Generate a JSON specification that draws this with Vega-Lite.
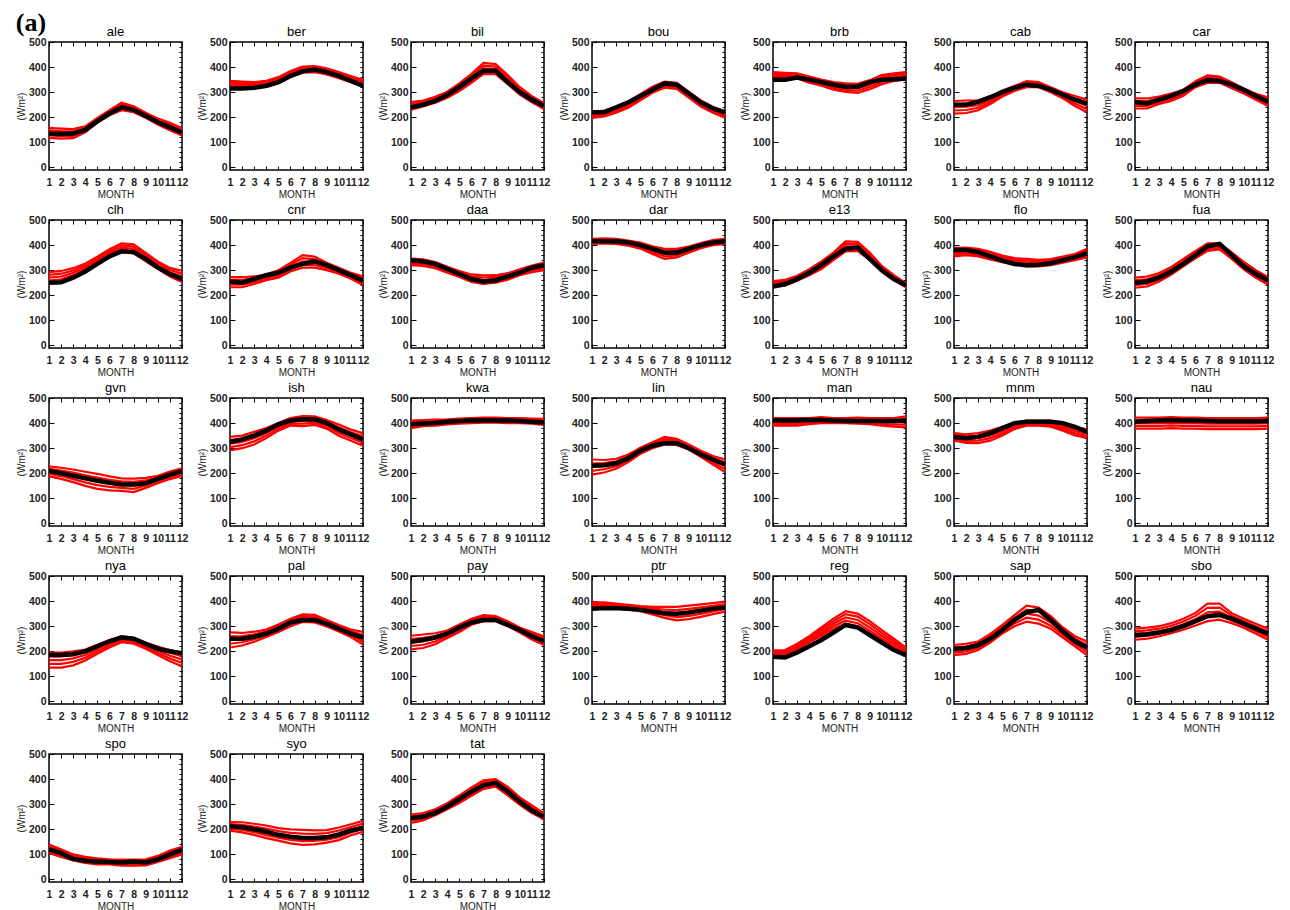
{
"$schema": "https://vega.github.io/schema/vega-lite/v6.json",
"background": "white",
"padding": {"left": 15, "top": 10, "right": 5, "bottom": 2},
"title": {"text": "(a)", "anchor": "start", "frame": "bounds", "font": "Liberation Serif", "fontSize": 26, "fontWeight": "bold", "color": "black", "offset": -11},
"data": {"values": [
{"p":"ale","x":1,"o":135,"a":118,"b":128,"c":138,"d":148,"e":158},
{"p":"ale","x":2,"o":133,"a":115,"b":125,"c":135,"d":145,"e":155},
{"p":"ale","x":3,"o":135,"a":117,"b":126,"c":135,"d":144,"e":153},
{"p":"ale","x":4,"o":150,"a":140,"b":146,"c":152,"d":158,"e":164},
{"p":"ale","x":5,"o":185,"a":178,"b":183,"c":188,"d":193,"e":198},
{"p":"ale","x":6,"o":215,"a":208,"b":213,"c":218,"d":223,"e":228},
{"p":"ale","x":7,"o":240,"a":228,"b":235,"c":243,"d":251,"e":258},
{"p":"ale","x":8,"o":230,"a":220,"b":226,"c":232,"d":238,"e":244},
{"p":"ale","x":9,"o":205,"a":198,"b":203,"c":208,"d":213,"e":218},
{"p":"ale","x":10,"o":180,"a":171,"b":177,"c":183,"d":189,"e":195},
{"p":"ale","x":11,"o":160,"a":148,"b":155,"c":163,"d":171,"e":178},
{"p":"ale","x":12,"o":140,"a":127,"b":134,"c":142,"d":150,"e":157},
{"p":"ber","x":1,"o":315,"a":315,"b":322,"c":330,"d":338,"e":345},
{"p":"ber","x":2,"o":315,"a":318,"b":324,"c":330,"d":336,"e":342},
{"p":"ber","x":3,"o":318,"a":316,"b":322,"c":328,"d":334,"e":340},
{"p":"ber","x":4,"o":325,"a":321,"b":327,"c":333,"d":339,"e":345},
{"p":"ber","x":5,"o":340,"a":336,"b":342,"c":348,"d":354,"e":360},
{"p":"ber","x":6,"o":365,"a":360,"b":366,"c":372,"d":378,"e":384},
{"p":"ber","x":7,"o":383,"a":378,"b":384,"c":390,"d":396,"e":402},
{"p":"ber","x":8,"o":390,"a":380,"b":386,"c":392,"d":398,"e":404},
{"p":"ber","x":9,"o":380,"a":371,"b":377,"c":383,"d":389,"e":395},
{"p":"ber","x":10,"o":365,"a":356,"b":362,"c":368,"d":374,"e":380},
{"p":"ber","x":11,"o":345,"a":340,"b":346,"c":352,"d":358,"e":364},
{"p":"ber","x":12,"o":325,"a":325,"b":331,"c":337,"d":343,"e":349},
{"p":"bil","x":1,"o":240,"a":230,"b":237,"c":245,"d":253,"e":260},
{"p":"bil","x":2,"o":250,"a":243,"b":249,"c":255,"d":261,"e":267},
{"p":"bil","x":3,"o":265,"a":258,"b":264,"c":270,"d":276,"e":282},
{"p":"bil","x":4,"o":290,"a":278,"b":284,"c":290,"d":296,"e":302},
{"p":"bil","x":5,"o":320,"a":305,"b":312,"c":320,"d":328,"e":335},
{"p":"bil","x":6,"o":355,"a":337,"b":346,"c":355,"d":364,"e":373},
{"p":"bil","x":7,"o":385,"a":373,"b":384,"c":395,"d":406,"e":417},
{"p":"bil","x":8,"o":385,"a":372,"b":382,"c":392,"d":402,"e":412},
{"p":"bil","x":9,"o":340,"a":332,"b":341,"c":350,"d":359,"e":368},
{"p":"bil","x":10,"o":300,"a":290,"b":297,"c":305,"d":313,"e":320},
{"p":"bil","x":11,"o":270,"a":260,"b":266,"c":272,"d":278,"e":284},
{"p":"bil","x":12,"o":245,"a":233,"b":239,"c":245,"d":251,"e":257},
{"p":"bou","x":1,"o":220,"a":198,"b":204,"c":210,"d":216,"e":222},
{"p":"bou","x":2,"o":220,"a":203,"b":209,"c":215,"d":221,"e":227},
{"p":"bou","x":3,"o":240,"a":218,"b":224,"c":230,"d":236,"e":242},
{"p":"bou","x":4,"o":260,"a":238,"b":244,"c":250,"d":256,"e":262},
{"p":"bou","x":5,"o":285,"a":268,"b":274,"c":280,"d":286,"e":292},
{"p":"bou","x":6,"o":310,"a":298,"b":304,"c":310,"d":316,"e":322},
{"p":"bou","x":7,"o":335,"a":318,"b":324,"c":330,"d":336,"e":342},
{"p":"bou","x":8,"o":330,"a":313,"b":319,"c":325,"d":331,"e":337},
{"p":"bou","x":9,"o":295,"a":278,"b":284,"c":290,"d":296,"e":302},
{"p":"bou","x":10,"o":260,"a":243,"b":249,"c":255,"d":261,"e":267},
{"p":"bou","x":11,"o":235,"a":218,"b":224,"c":230,"d":236,"e":242},
{"p":"bou","x":12,"o":220,"a":198,"b":204,"c":210,"d":216,"e":222},
{"p":"brb","x":1,"o":350,"a":350,"b":357,"c":365,"d":373,"e":380},
{"p":"brb","x":2,"o":350,"a":353,"b":359,"c":365,"d":371,"e":377},
{"p":"brb","x":3,"o":358,"a":355,"b":360,"c":365,"d":370,"e":375},
{"p":"brb","x":4,"o":350,"a":338,"b":344,"c":350,"d":356,"e":362},
{"p":"brb","x":5,"o":340,"a":326,"b":332,"c":338,"d":344,"e":350},
{"p":"brb","x":6,"o":330,"a":310,"b":317,"c":325,"d":333,"e":340},
{"p":"brb","x":7,"o":322,"a":301,"b":309,"c":318,"d":327,"e":335},
{"p":"brb","x":8,"o":322,"a":297,"b":306,"c":315,"d":324,"e":333},
{"p":"brb","x":9,"o":340,"a":312,"b":321,"c":330,"d":339,"e":348},
{"p":"brb","x":10,"o":350,"a":332,"b":341,"c":350,"d":359,"e":368},
{"p":"brb","x":11,"o":352,"a":345,"b":352,"c":360,"d":368,"e":375},
{"p":"brb","x":12,"o":355,"a":350,"b":357,"c":365,"d":373,"e":380},
{"p":"cab","x":1,"o":250,"a":215,"b":227,"c":240,"d":253,"e":265},
{"p":"cab","x":2,"o":250,"a":217,"b":229,"c":242,"d":255,"e":267},
{"p":"cab","x":3,"o":262,"a":228,"b":238,"c":248,"d":258,"e":268},
{"p":"cab","x":4,"o":280,"a":253,"b":260,"c":268,"d":276,"e":283},
{"p":"cab","x":5,"o":300,"a":283,"b":289,"c":295,"d":301,"e":307},
{"p":"cab","x":6,"o":318,"a":305,"b":310,"c":315,"d":320,"e":325},
{"p":"cab","x":7,"o":330,"a":320,"b":326,"c":332,"d":338,"e":344},
{"p":"cab","x":8,"o":325,"a":320,"b":325,"c":330,"d":335,"e":340},
{"p":"cab","x":9,"o":310,"a":300,"b":305,"c":310,"d":315,"e":320},
{"p":"cab","x":10,"o":290,"a":276,"b":282,"c":288,"d":294,"e":300},
{"p":"cab","x":11,"o":270,"a":245,"b":255,"c":265,"d":275,"e":285},
{"p":"cab","x":12,"o":255,"a":220,"b":232,"c":245,"d":258,"e":270},
{"p":"car","x":1,"o":260,"a":235,"b":245,"c":255,"d":265,"e":275},
{"p":"car","x":2,"o":255,"a":235,"b":245,"c":255,"d":265,"e":275},
{"p":"car","x":3,"o":270,"a":253,"b":260,"c":268,"d":276,"e":283},
{"p":"car","x":4,"o":285,"a":265,"b":272,"c":280,"d":288,"e":295},
{"p":"car","x":5,"o":305,"a":286,"b":292,"c":298,"d":304,"e":310},
{"p":"car","x":6,"o":330,"a":320,"b":326,"c":332,"d":338,"e":344},
{"p":"car","x":7,"o":348,"a":337,"b":344,"c":352,"d":360,"e":367},
{"p":"car","x":8,"o":345,"a":338,"b":344,"c":350,"d":356,"e":362},
{"p":"car","x":9,"o":330,"a":316,"b":322,"c":328,"d":334,"e":340},
{"p":"car","x":10,"o":310,"a":295,"b":300,"c":305,"d":310,"e":315},
{"p":"car","x":11,"o":285,"a":270,"b":276,"c":282,"d":288,"e":294},
{"p":"car","x":12,"o":262,"a":245,"b":253,"c":262,"d":271,"e":279},
{"p":"clh","x":1,"o":250,"a":248,"b":259,"c":270,"d":281,"e":292},
{"p":"clh","x":2,"o":252,"a":253,"b":264,"c":275,"d":286,"e":297},
{"p":"clh","x":3,"o":270,"a":272,"b":281,"c":290,"d":299,"e":308},
{"p":"clh","x":4,"o":295,"a":297,"b":304,"c":312,"d":320,"e":327},
{"p":"clh","x":5,"o":325,"a":330,"b":336,"c":342,"d":348,"e":354},
{"p":"clh","x":6,"o":355,"a":360,"b":366,"c":372,"d":378,"e":384},
{"p":"clh","x":7,"o":375,"a":373,"b":381,"c":390,"d":399,"e":407},
{"p":"clh","x":8,"o":372,"a":367,"b":376,"c":385,"d":394,"e":403},
{"p":"clh","x":9,"o":345,"a":335,"b":343,"c":352,"d":361,"e":369},
{"p":"clh","x":10,"o":310,"a":305,"b":312,"c":320,"d":328,"e":335},
{"p":"clh","x":11,"o":285,"a":275,"b":283,"c":292,"d":301,"e":309},
{"p":"clh","x":12,"o":265,"a":253,"b":264,"c":275,"d":286,"e":297},
{"p":"cnr","x":1,"o":255,"a":232,"b":242,"c":252,"d":262,"e":272},
{"p":"cnr","x":2,"o":250,"a":232,"b":242,"c":252,"d":262,"e":272},
{"p":"cnr","x":3,"o":265,"a":245,"b":252,"c":260,"d":268,"e":275},
{"p":"cnr","x":4,"o":280,"a":260,"b":266,"c":272,"d":278,"e":284},
{"p":"cnr","x":5,"o":290,"a":270,"b":277,"c":285,"d":293,"e":300},
{"p":"cnr","x":6,"o":310,"a":295,"b":303,"c":312,"d":321,"e":329},
{"p":"cnr","x":7,"o":325,"a":310,"b":322,"c":335,"d":348,"e":360},
{"p":"cnr","x":8,"o":335,"a":310,"b":321,"c":332,"d":343,"e":354},
{"p":"cnr","x":9,"o":320,"a":300,"b":307,"c":315,"d":323,"e":330},
{"p":"cnr","x":10,"o":300,"a":286,"b":292,"c":298,"d":304,"e":310},
{"p":"cnr","x":11,"o":280,"a":266,"b":272,"c":278,"d":284,"e":290},
{"p":"cnr","x":12,"o":258,"a":241,"b":249,"c":258,"d":267,"e":275},
{"p":"daa","x":1,"o":340,"a":320,"b":326,"c":333,"d":340,"e":346},
{"p":"daa","x":2,"o":335,"a":317,"b":323,"c":330,"d":337,"e":343},
{"p":"daa","x":3,"o":325,"a":308,"b":314,"c":320,"d":326,"e":332},
{"p":"daa","x":4,"o":305,"a":290,"b":296,"c":302,"d":308,"e":314},
{"p":"daa","x":5,"o":285,"a":273,"b":279,"c":285,"d":291,"e":297},
{"p":"daa","x":6,"o":265,"a":253,"b":260,"c":268,"d":276,"e":283},
{"p":"daa","x":7,"o":255,"a":245,"b":253,"c":262,"d":271,"e":279},
{"p":"daa","x":8,"o":260,"a":250,"b":257,"c":265,"d":273,"e":280},
{"p":"daa","x":9,"o":275,"a":262,"b":268,"c":275,"d":282,"e":288},
{"p":"daa","x":10,"o":290,"a":280,"b":286,"c":292,"d":298,"e":304},
{"p":"daa","x":11,"o":310,"a":292,"b":298,"c":305,"d":312,"e":318},
{"p":"daa","x":12,"o":320,"a":300,"b":307,"c":315,"d":323,"e":330},
{"p":"dar","x":1,"o":415,"a":405,"b":410,"c":415,"d":420,"e":425},
{"p":"dar","x":2,"o":415,"a":407,"b":412,"c":417,"d":422,"e":427},
{"p":"dar","x":3,"o":415,"a":405,"b":410,"c":415,"d":420,"e":425},
{"p":"dar","x":4,"o":410,"a":398,"b":403,"c":408,"d":413,"e":418},
{"p":"dar","x":5,"o":400,"a":386,"b":392,"c":398,"d":404,"e":410},
{"p":"dar","x":6,"o":385,"a":365,"b":372,"c":380,"d":388,"e":395},
{"p":"dar","x":7,"o":370,"a":345,"b":355,"c":365,"d":375,"e":385},
{"p":"dar","x":8,"o":370,"a":351,"b":359,"c":368,"d":377,"e":385},
{"p":"dar","x":9,"o":385,"a":370,"b":376,"c":382,"d":388,"e":394},
{"p":"dar","x":10,"o":400,"a":388,"b":393,"c":398,"d":403,"e":408},
{"p":"dar","x":11,"o":410,"a":400,"b":405,"c":410,"d":415,"e":420},
{"p":"dar","x":12,"o":415,"a":405,"b":410,"c":415,"d":420,"e":425},
{"p":"e13","x":1,"o":235,"a":233,"b":239,"c":245,"d":251,"e":257},
{"p":"e13","x":2,"o":245,"a":238,"b":244,"c":250,"d":256,"e":262},
{"p":"e13","x":3,"o":265,"a":258,"b":263,"c":268,"d":273,"e":278},
{"p":"e13","x":4,"o":290,"a":280,"b":286,"c":292,"d":298,"e":304},
{"p":"e13","x":5,"o":320,"a":305,"b":312,"c":320,"d":328,"e":335},
{"p":"e13","x":6,"o":355,"a":340,"b":347,"c":355,"d":363,"e":370},
{"p":"e13","x":7,"o":385,"a":375,"b":385,"c":395,"d":405,"e":415},
{"p":"e13","x":8,"o":390,"a":377,"b":386,"c":395,"d":404,"e":413},
{"p":"e13","x":9,"o":345,"a":340,"b":347,"c":355,"d":363,"e":370},
{"p":"e13","x":10,"o":300,"a":293,"b":299,"c":305,"d":311,"e":317},
{"p":"e13","x":11,"o":265,"a":260,"b":265,"c":270,"d":275,"e":280},
{"p":"e13","x":12,"o":240,"a":232,"b":236,"c":240,"d":244,"e":248},
{"p":"flo","x":1,"o":380,"a":355,"b":363,"c":372,"d":381,"e":389},
{"p":"flo","x":2,"o":380,"a":360,"b":367,"c":375,"d":383,"e":390},
{"p":"flo","x":3,"o":372,"a":355,"b":362,"c":370,"d":378,"e":385},
{"p":"flo","x":4,"o":355,"a":343,"b":350,"c":358,"d":366,"e":373},
{"p":"flo","x":5,"o":338,"a":332,"b":338,"c":345,"d":352,"e":358},
{"p":"flo","x":6,"o":325,"a":322,"b":328,"c":335,"d":342,"e":348},
{"p":"flo","x":7,"o":320,"a":315,"b":322,"c":330,"d":338,"e":345},
{"p":"flo","x":8,"o":322,"a":315,"b":321,"c":328,"d":335,"e":341},
{"p":"flo","x":9,"o":328,"a":320,"b":326,"c":332,"d":338,"e":344},
{"p":"flo","x":10,"o":340,"a":330,"b":336,"c":342,"d":348,"e":354},
{"p":"flo","x":11,"o":352,"a":340,"b":346,"c":352,"d":358,"e":364},
{"p":"flo","x":12,"o":368,"a":351,"b":359,"c":368,"d":377,"e":385},
{"p":"fua","x":1,"o":250,"a":230,"b":240,"c":250,"d":260,"e":270},
{"p":"fua","x":2,"o":255,"a":235,"b":245,"c":255,"d":265,"e":275},
{"p":"fua","x":3,"o":270,"a":255,"b":263,"c":272,"d":281,"e":289},
{"p":"fua","x":4,"o":295,"a":283,"b":290,"c":298,"d":306,"e":313},
{"p":"fua","x":5,"o":325,"a":315,"b":322,"c":330,"d":338,"e":345},
{"p":"fua","x":6,"o":360,"a":347,"b":354,"c":362,"d":370,"e":377},
{"p":"fua","x":7,"o":395,"a":377,"b":384,"c":392,"d":400,"e":407},
{"p":"fua","x":8,"o":405,"a":383,"b":389,"c":395,"d":401,"e":407},
{"p":"fua","x":9,"o":360,"a":345,"b":351,"c":358,"d":365,"e":371},
{"p":"fua","x":10,"o":315,"a":303,"b":310,"c":318,"d":326,"e":333},
{"p":"fua","x":11,"o":285,"a":270,"b":277,"c":285,"d":293,"e":300},
{"p":"fua","x":12,"o":260,"a":243,"b":250,"c":258,"d":266,"e":273},
{"p":"gvn","x":1,"o":210,"a":188,"b":198,"c":208,"d":218,"e":228},
{"p":"gvn","x":2,"o":200,"a":178,"b":189,"c":200,"d":211,"e":222},
{"p":"gvn","x":3,"o":190,"a":165,"b":177,"c":190,"d":203,"e":215},
{"p":"gvn","x":4,"o":180,"a":150,"b":164,"c":178,"d":192,"e":206},
{"p":"gvn","x":5,"o":170,"a":138,"b":153,"c":168,"d":183,"e":198},
{"p":"gvn","x":6,"o":162,"a":132,"b":146,"c":160,"d":174,"e":188},
{"p":"gvn","x":7,"o":155,"a":130,"b":142,"c":155,"d":168,"e":180},
{"p":"gvn","x":8,"o":155,"a":125,"b":138,"c":152,"d":166,"e":179},
{"p":"gvn","x":9,"o":160,"a":142,"b":152,"c":162,"d":172,"e":182},
{"p":"gvn","x":10,"o":178,"a":160,"b":167,"c":175,"d":183,"e":190},
{"p":"gvn","x":11,"o":195,"a":177,"b":184,"c":192,"d":200,"e":207},
{"p":"gvn","x":12,"o":208,"a":190,"b":197,"c":205,"d":213,"e":220},
{"p":"ish","x":1,"o":325,"a":291,"b":304,"c":318,"d":332,"e":345},
{"p":"ish","x":2,"o":335,"a":300,"b":312,"c":325,"d":338,"e":350},
{"p":"ish","x":3,"o":350,"a":315,"b":327,"c":340,"d":353,"e":365},
{"p":"ish","x":4,"o":370,"a":340,"b":350,"c":360,"d":370,"e":380},
{"p":"ish","x":5,"o":395,"a":370,"b":377,"c":385,"d":393,"e":400},
{"p":"ish","x":6,"o":410,"a":390,"b":397,"c":405,"d":413,"e":420},
{"p":"ish","x":7,"o":415,"a":388,"b":398,"c":408,"d":418,"e":428},
{"p":"ish","x":8,"o":415,"a":393,"b":401,"c":410,"d":419,"e":427},
{"p":"ish","x":9,"o":400,"a":378,"b":386,"c":395,"d":404,"e":412},
{"p":"ish","x":10,"o":375,"a":350,"b":361,"c":372,"d":383,"e":394},
{"p":"ish","x":11,"o":355,"a":330,"b":341,"c":352,"d":363,"e":374},
{"p":"ish","x":12,"o":335,"a":310,"b":322,"c":335,"d":348,"e":360},
{"p":"kwa","x":1,"o":395,"a":380,"b":387,"c":395,"d":403,"e":410},
{"p":"kwa","x":2,"o":398,"a":388,"b":394,"c":400,"d":406,"e":412},
{"p":"kwa","x":3,"o":400,"a":390,"b":396,"c":402,"d":408,"e":414},
{"p":"kwa","x":4,"o":405,"a":395,"b":400,"c":405,"d":410,"e":415},
{"p":"kwa","x":5,"o":408,"a":398,"b":403,"c":408,"d":413,"e":418},
{"p":"kwa","x":6,"o":410,"a":400,"b":405,"c":410,"d":415,"e":420},
{"p":"kwa","x":7,"o":410,"a":402,"b":407,"c":412,"d":417,"e":422},
{"p":"kwa","x":8,"o":410,"a":402,"b":407,"c":412,"d":417,"e":422},
{"p":"kwa","x":9,"o":410,"a":400,"b":405,"c":410,"d":415,"e":420},
{"p":"kwa","x":10,"o":408,"a":400,"b":405,"c":410,"d":415,"e":420},
{"p":"kwa","x":11,"o":405,"a":398,"b":403,"c":408,"d":413,"e":418},
{"p":"kwa","x":12,"o":402,"a":393,"b":399,"c":405,"d":411,"e":417},
{"p":"lin","x":1,"o":230,"a":195,"b":210,"c":225,"d":240,"e":255},
{"p":"lin","x":2,"o":232,"a":203,"b":216,"c":228,"d":241,"e":253},
{"p":"lin","x":3,"o":240,"a":218,"b":228,"c":238,"d":248,"e":258},
{"p":"lin","x":4,"o":260,"a":245,"b":252,"c":260,"d":268,"e":275},
{"p":"lin","x":5,"o":290,"a":278,"b":284,"c":290,"d":296,"e":302},
{"p":"lin","x":6,"o":310,"a":300,"b":306,"c":312,"d":318,"e":324},
{"p":"lin","x":7,"o":320,"a":315,"b":322,"c":330,"d":338,"e":345},
{"p":"lin","x":8,"o":320,"a":313,"b":319,"c":325,"d":331,"e":337},
{"p":"lin","x":9,"o":300,"a":295,"b":300,"c":305,"d":310,"e":315},
{"p":"lin","x":10,"o":275,"a":266,"b":272,"c":278,"d":284,"e":290},
{"p":"lin","x":11,"o":255,"a":235,"b":243,"c":252,"d":261,"e":269},
{"p":"lin","x":12,"o":235,"a":205,"b":217,"c":230,"d":243,"e":255},
{"p":"man","x":1,"o":410,"a":390,"b":397,"c":405,"d":413,"e":420},
{"p":"man","x":2,"o":410,"a":390,"b":397,"c":405,"d":413,"e":420},
{"p":"man","x":3,"o":410,"a":390,"b":397,"c":405,"d":413,"e":420},
{"p":"man","x":4,"o":412,"a":396,"b":402,"c":408,"d":414,"e":420},
{"p":"man","x":5,"o":412,"a":400,"b":406,"c":412,"d":418,"e":424},
{"p":"man","x":6,"o":410,"a":400,"b":405,"c":410,"d":415,"e":420},
{"p":"man","x":7,"o":408,"a":400,"b":405,"c":410,"d":415,"e":420},
{"p":"man","x":8,"o":408,"a":398,"b":404,"c":410,"d":416,"e":422},
{"p":"man","x":9,"o":408,"a":396,"b":402,"c":408,"d":414,"e":420},
{"p":"man","x":10,"o":408,"a":390,"b":397,"c":405,"d":413,"e":420},
{"p":"man","x":11,"o":408,"a":386,"b":394,"c":403,"d":412,"e":420},
{"p":"man","x":12,"o":410,"a":383,"b":394,"c":405,"d":416,"e":427},
{"p":"mnm","x":1,"o":345,"a":330,"b":337,"c":345,"d":353,"e":360},
{"p":"mnm","x":2,"o":340,"a":321,"b":329,"c":338,"d":347,"e":355},
{"p":"mnm","x":3,"o":345,"a":320,"b":330,"c":340,"d":350,"e":360},
{"p":"mnm","x":4,"o":360,"a":330,"b":340,"c":350,"d":360,"e":370},
{"p":"mnm","x":5,"o":380,"a":351,"b":359,"c":368,"d":377,"e":385},
{"p":"mnm","x":6,"o":400,"a":376,"b":382,"c":388,"d":394,"e":400},
{"p":"mnm","x":7,"o":405,"a":390,"b":395,"c":400,"d":405,"e":410},
{"p":"mnm","x":8,"o":405,"a":390,"b":395,"c":400,"d":405,"e":410},
{"p":"mnm","x":9,"o":405,"a":386,"b":392,"c":398,"d":404,"e":410},
{"p":"mnm","x":10,"o":400,"a":370,"b":377,"c":385,"d":393,"e":400},
{"p":"mnm","x":11,"o":385,"a":351,"b":359,"c":368,"d":377,"e":385},
{"p":"mnm","x":12,"o":365,"a":341,"b":349,"c":358,"d":367,"e":375},
{"p":"nau","x":1,"o":405,"a":378,"b":389,"c":400,"d":411,"e":422},
{"p":"nau","x":2,"o":408,"a":378,"b":389,"c":400,"d":411,"e":422},
{"p":"nau","x":3,"o":410,"a":378,"b":389,"c":400,"d":411,"e":422},
{"p":"nau","x":4,"o":412,"a":380,"b":391,"c":402,"d":413,"e":424},
{"p":"nau","x":5,"o":410,"a":378,"b":389,"c":400,"d":411,"e":422},
{"p":"nau","x":6,"o":410,"a":378,"b":389,"c":400,"d":411,"e":422},
{"p":"nau","x":7,"o":408,"a":376,"b":387,"c":398,"d":409,"e":420},
{"p":"nau","x":8,"o":407,"a":376,"b":387,"c":398,"d":409,"e":420},
{"p":"nau","x":9,"o":407,"a":376,"b":387,"c":398,"d":409,"e":420},
{"p":"nau","x":10,"o":407,"a":376,"b":387,"c":398,"d":409,"e":420},
{"p":"nau","x":11,"o":407,"a":376,"b":387,"c":398,"d":409,"e":420},
{"p":"nau","x":12,"o":408,"a":378,"b":389,"c":400,"d":411,"e":422},
{"p":"nya","x":1,"o":185,"a":135,"b":150,"c":165,"d":180,"e":195},
{"p":"nya","x":2,"o":185,"a":135,"b":150,"c":165,"d":180,"e":195},
{"p":"nya","x":3,"o":188,"a":144,"b":158,"c":172,"d":186,"e":200},
{"p":"nya","x":4,"o":200,"a":163,"b":174,"c":185,"d":196,"e":207},
{"p":"nya","x":5,"o":220,"a":190,"b":199,"c":208,"d":217,"e":226},
{"p":"nya","x":6,"o":240,"a":215,"b":222,"c":230,"d":238,"e":245},
{"p":"nya","x":7,"o":255,"a":236,"b":242,"c":248,"d":254,"e":260},
{"p":"nya","x":8,"o":250,"a":230,"b":236,"c":242,"d":248,"e":254},
{"p":"nya","x":9,"o":230,"a":210,"b":216,"c":222,"d":228,"e":234},
{"p":"nya","x":10,"o":210,"a":185,"b":193,"c":202,"d":211,"e":219},
{"p":"nya","x":11,"o":200,"a":160,"b":171,"c":182,"d":193,"e":204},
{"p":"nya","x":12,"o":192,"a":141,"b":154,"c":168,"d":182,"e":195},
{"p":"pal","x":1,"o":250,"a":215,"b":230,"c":245,"d":260,"e":275},
{"p":"pal","x":2,"o":250,"a":223,"b":236,"c":248,"d":261,"e":273},
{"p":"pal","x":3,"o":258,"a":238,"b":248,"c":258,"d":268,"e":278},
{"p":"pal","x":4,"o":270,"a":257,"b":264,"c":272,"d":280,"e":287},
{"p":"pal","x":5,"o":290,"a":277,"b":284,"c":292,"d":300,"e":307},
{"p":"pal","x":6,"o":315,"a":300,"b":307,"c":315,"d":323,"e":330},
{"p":"pal","x":7,"o":325,"a":317,"b":324,"c":332,"d":340,"e":347},
{"p":"pal","x":8,"o":325,"a":315,"b":322,"c":330,"d":338,"e":345},
{"p":"pal","x":9,"o":310,"a":299,"b":305,"c":312,"d":319,"e":325},
{"p":"pal","x":10,"o":290,"a":279,"b":285,"c":292,"d":299,"e":305},
{"p":"pal","x":11,"o":270,"a":257,"b":264,"c":272,"d":280,"e":287},
{"p":"pal","x":12,"o":255,"a":227,"b":239,"c":252,"d":265,"e":277},
{"p":"pay","x":1,"o":238,"a":208,"b":221,"c":235,"d":249,"e":262},
{"p":"pay","x":2,"o":245,"a":213,"b":226,"c":240,"d":254,"e":267},
{"p":"pay","x":3,"o":255,"a":228,"b":239,"c":250,"d":261,"e":272},
{"p":"pay","x":4,"o":270,"a":253,"b":260,"c":268,"d":276,"e":283},
{"p":"pay","x":5,"o":295,"a":277,"b":284,"c":292,"d":300,"e":307},
{"p":"pay","x":6,"o":315,"a":306,"b":312,"c":318,"d":324,"e":330},
{"p":"pay","x":7,"o":325,"a":320,"b":326,"c":332,"d":338,"e":344},
{"p":"pay","x":8,"o":325,"a":320,"b":325,"c":330,"d":335,"e":340},
{"p":"pay","x":9,"o":305,"a":300,"b":305,"c":310,"d":315,"e":320},
{"p":"pay","x":10,"o":285,"a":275,"b":280,"c":285,"d":290,"e":295},
{"p":"pay","x":11,"o":260,"a":247,"b":254,"c":262,"d":270,"e":277},
{"p":"pay","x":12,"o":240,"a":225,"b":233,"c":242,"d":251,"e":259},
{"p":"ptr","x":1,"o":370,"a":375,"b":380,"c":385,"d":390,"e":395},
{"p":"ptr","x":2,"o":372,"a":375,"b":380,"c":385,"d":390,"e":395},
{"p":"ptr","x":3,"o":372,"a":370,"b":375,"c":380,"d":385,"e":390},
{"p":"ptr","x":4,"o":370,"a":365,"b":370,"c":375,"d":380,"e":385},
{"p":"ptr","x":5,"o":365,"a":360,"b":365,"c":370,"d":375,"e":380},
{"p":"ptr","x":6,"o":358,"a":347,"b":354,"c":362,"d":370,"e":377},
{"p":"ptr","x":7,"o":352,"a":333,"b":344,"c":355,"d":366,"e":377},
{"p":"ptr","x":8,"o":350,"a":323,"b":336,"c":350,"d":364,"e":377},
{"p":"ptr","x":9,"o":355,"a":328,"b":341,"c":355,"d":369,"e":382},
{"p":"ptr","x":10,"o":362,"a":337,"b":349,"c":362,"d":375,"e":387},
{"p":"ptr","x":11,"o":370,"a":348,"b":359,"c":370,"d":381,"e":392},
{"p":"ptr","x":12,"o":375,"a":358,"b":368,"c":378,"d":388,"e":398},
{"p":"reg","x":1,"o":178,"a":180,"b":186,"c":192,"d":198,"e":204},
{"p":"reg","x":2,"o":175,"a":185,"b":190,"c":195,"d":200,"e":205},
{"p":"reg","x":3,"o":195,"a":206,"b":212,"c":218,"d":224,"e":230},
{"p":"reg","x":4,"o":220,"a":236,"b":242,"c":248,"d":254,"e":260},
{"p":"reg","x":5,"o":245,"a":261,"b":269,"c":278,"d":287,"e":295},
{"p":"reg","x":6,"o":275,"a":290,"b":300,"c":310,"d":320,"e":330},
{"p":"reg","x":7,"o":305,"a":310,"b":322,"c":335,"d":348,"e":360},
{"p":"reg","x":8,"o":295,"a":300,"b":312,"c":325,"d":338,"e":350},
{"p":"reg","x":9,"o":265,"a":270,"b":282,"c":295,"d":308,"e":320},
{"p":"reg","x":10,"o":235,"a":240,"b":251,"c":262,"d":273,"e":284},
{"p":"reg","x":11,"o":205,"a":210,"b":220,"c":230,"d":240,"e":250},
{"p":"reg","x":12,"o":185,"a":185,"b":192,"c":200,"d":208,"e":215},
{"p":"sap","x":1,"o":210,"a":185,"b":195,"c":205,"d":215,"e":225},
{"p":"sap","x":2,"o":212,"a":190,"b":200,"c":210,"d":220,"e":230},
{"p":"sap","x":3,"o":225,"a":205,"b":213,"c":222,"d":231,"e":239},
{"p":"sap","x":4,"o":250,"a":235,"b":243,"c":252,"d":261,"e":269},
{"p":"sap","x":5,"o":285,"a":271,"b":279,"c":288,"d":297,"e":305},
{"p":"sap","x":6,"o":325,"a":300,"b":311,"c":322,"d":333,"e":344},
{"p":"sap","x":7,"o":355,"a":318,"b":334,"c":350,"d":366,"e":382},
{"p":"sap","x":8,"o":365,"a":310,"b":326,"c":342,"d":358,"e":374},
{"p":"sap","x":9,"o":325,"a":290,"b":302,"c":315,"d":328,"e":340},
{"p":"sap","x":10,"o":280,"a":255,"b":265,"c":275,"d":285,"e":295},
{"p":"sap","x":11,"o":240,"a":220,"b":230,"c":240,"d":250,"e":260},
{"p":"sap","x":12,"o":215,"a":185,"b":198,"c":212,"d":226,"e":239},
{"p":"sbo","x":1,"o":265,"a":246,"b":257,"c":268,"d":279,"e":290},
{"p":"sbo","x":2,"o":268,"a":250,"b":261,"c":272,"d":283,"e":294},
{"p":"sbo","x":3,"o":275,"a":260,"b":270,"c":280,"d":290,"e":300},
{"p":"sbo","x":4,"o":285,"a":272,"b":282,"c":292,"d":302,"e":312},
{"p":"sbo","x":5,"o":300,"a":286,"b":297,"c":308,"d":319,"e":330},
{"p":"sbo","x":6,"o":320,"a":303,"b":315,"c":328,"d":341,"e":353},
{"p":"sbo","x":7,"o":340,"a":320,"b":337,"c":355,"d":373,"e":390},
{"p":"sbo","x":8,"o":345,"a":326,"b":342,"c":358,"d":374,"e":390},
{"p":"sbo","x":9,"o":330,"a":312,"b":322,"c":332,"d":342,"e":352},
{"p":"sbo","x":10,"o":310,"a":294,"b":303,"c":312,"d":321,"e":330},
{"p":"sbo","x":11,"o":290,"a":270,"b":280,"c":290,"d":300,"e":310},
{"p":"sbo","x":12,"o":270,"a":246,"b":257,"c":268,"d":279,"e":290},
{"p":"spo","x":1,"o":120,"a":105,"b":113,"c":122,"d":131,"e":139},
{"p":"spo","x":2,"o":105,"a":90,"b":97,"c":105,"d":113,"e":120},
{"p":"spo","x":3,"o":82,"a":76,"b":82,"c":88,"d":94,"e":100},
{"p":"spo","x":4,"o":75,"a":66,"b":72,"c":78,"d":84,"e":90},
{"p":"spo","x":5,"o":72,"a":60,"b":66,"c":72,"d":78,"e":84},
{"p":"spo","x":6,"o":70,"a":60,"b":65,"c":70,"d":75,"e":80},
{"p":"spo","x":7,"o":68,"a":55,"b":61,"c":67,"d":73,"e":79},
{"p":"spo","x":8,"o":72,"a":55,"b":61,"c":67,"d":73,"e":79},
{"p":"spo","x":9,"o":68,"a":56,"b":62,"c":68,"d":74,"e":80},
{"p":"spo","x":10,"o":80,"a":70,"b":76,"c":82,"d":88,"e":94},
{"p":"spo","x":11,"o":100,"a":85,"b":92,"c":100,"d":108,"e":115},
{"p":"spo","x":12,"o":118,"a":100,"b":107,"c":115,"d":123,"e":130},
{"p":"syo","x":1,"o":212,"a":195,"b":203,"c":212,"d":221,"e":229},
{"p":"syo","x":2,"o":208,"a":188,"b":198,"c":208,"d":218,"e":228},
{"p":"syo","x":3,"o":200,"a":178,"b":189,"c":200,"d":211,"e":222},
{"p":"syo","x":4,"o":190,"a":165,"b":177,"c":190,"d":203,"e":215},
{"p":"syo","x":5,"o":178,"a":155,"b":167,"c":180,"d":193,"e":205},
{"p":"syo","x":6,"o":170,"a":144,"b":158,"c":172,"d":186,"e":200},
{"p":"syo","x":7,"o":165,"a":138,"b":153,"c":168,"d":183,"e":198},
{"p":"syo","x":8,"o":165,"a":140,"b":154,"c":168,"d":182,"e":196},
{"p":"syo","x":9,"o":168,"a":147,"b":159,"c":172,"d":185,"e":197},
{"p":"syo","x":10,"o":180,"a":157,"b":169,"c":182,"d":195,"e":207},
{"p":"syo","x":11,"o":195,"a":176,"b":187,"c":198,"d":209,"e":220},
{"p":"syo","x":12,"o":205,"a":190,"b":201,"c":212,"d":223,"e":234},
{"p":"tat","x":1,"o":245,"a":225,"b":233,"c":242,"d":251,"e":259},
{"p":"tat","x":2,"o":250,"a":235,"b":242,"c":250,"d":258,"e":265},
{"p":"tat","x":3,"o":265,"a":256,"b":262,"c":268,"d":274,"e":280},
{"p":"tat","x":4,"o":290,"a":280,"b":286,"c":292,"d":298,"e":304},
{"p":"tat","x":5,"o":320,"a":305,"b":312,"c":320,"d":328,"e":335},
{"p":"tat","x":6,"o":350,"a":333,"b":341,"c":350,"d":359,"e":367},
{"p":"tat","x":7,"o":375,"a":361,"b":369,"c":378,"d":387,"e":395},
{"p":"tat","x":8,"o":385,"a":370,"b":377,"c":385,"d":393,"e":400},
{"p":"tat","x":9,"o":350,"a":335,"b":343,"c":352,"d":361,"e":369},
{"p":"tat","x":10,"o":310,"a":297,"b":304,"c":312,"d":320,"e":327},
{"p":"tat","x":11,"o":275,"a":265,"b":272,"c":280,"d":288,"e":295},
{"p":"tat","x":12,"o":250,"a":240,"b":246,"c":252,"d":258,"e":264}
]},
"facet": {"field": "p", "type": "nominal", "header": {"title": null, "labelFont": "Liberation Sans", "labelFontSize": 13, "labelColor": "black", "labelPadding": -2}},
"columns": 7,
"spacing": {"row": 50, "column": 48},
"bounds": "flush",
"resolve": {"axis": {"x": "independent", "y": "independent"}},
"spec": {
  "width": 133,
  "height": 128,
  "resolve": {"axis": {"x": "independent", "y": "independent"}},
  "layer": [
    {
      "transform": [{"fold": ["a", "b", "c", "d", "e"], "as": ["m", "v"]}],
      "mark": {"type": "line", "color": "#ff0000", "strokeWidth": 2.2, "clip": true},
      "encoding": {
        "x": {"field": "x", "type": "quantitative", "scale": {"domain": [1, 12], "nice": false, "zero": false},
              "axis": {"orient": "bottom", "title": "MONTH", "labelPadding": 11, "titlePadding": 2, "values": [1,2,3,4,5,6,7,8,9,10,11,12]}},
        "y": {"field": "v", "type": "quantitative", "scale": {"domain": [-10, 500], "nice": false, "zero": false},
              "axis": {"orient": "left", "title": "(Wm²)", "tickSize": -5, "labelPadding": 8, "values": [0,100,200,300,400,500]}},
        "detail": {"field": "m", "type": "nominal"}
      }
    },
    {
      "mark": {"type": "line", "color": "black", "strokeWidth": 4.5, "clip": true},
      "encoding": {
        "x": {"field": "x", "type": "quantitative", "scale": {"domain": [1, 12], "nice": false, "zero": false},
              "axis": {"orient": "top", "title": null, "labels": false, "values": [1,2,3,4,5,6,7,8,9,10,11,12]}},
        "y": {"field": "o", "type": "quantitative", "scale": {"domain": [-10, 500], "nice": false, "zero": false},
              "axis": {"orient": "right", "title": null, "labels": false, "tickSize": -3, "values": [0,20,40,60,80,100,120,140,160,180,200,220,240,260,280,300,320,340,360,380,400,420,440,460,480,500]}}
      }
    }
  ]
},
"config": {
  "view": {"stroke": "black", "strokeWidth": 1.5},
  "axis": {
    "domain": false, "grid": false,
    "labelFont": "Liberation Sans", "labelFontSize": 10.5, "labelFontWeight": "bold", "labelColor": "#222", "labelPadding": 2,
    "labelOverlap": false, "labelBound": false, "labelFlush": false,
    "tickColor": "black", "tickSize": -4, "tickWidth": 1,
    "titleFont": "Liberation Sans", "titleFontSize": 10, "titleFontWeight": "normal", "titleColor": "#222", "titlePadding": 2
  }
}
}
